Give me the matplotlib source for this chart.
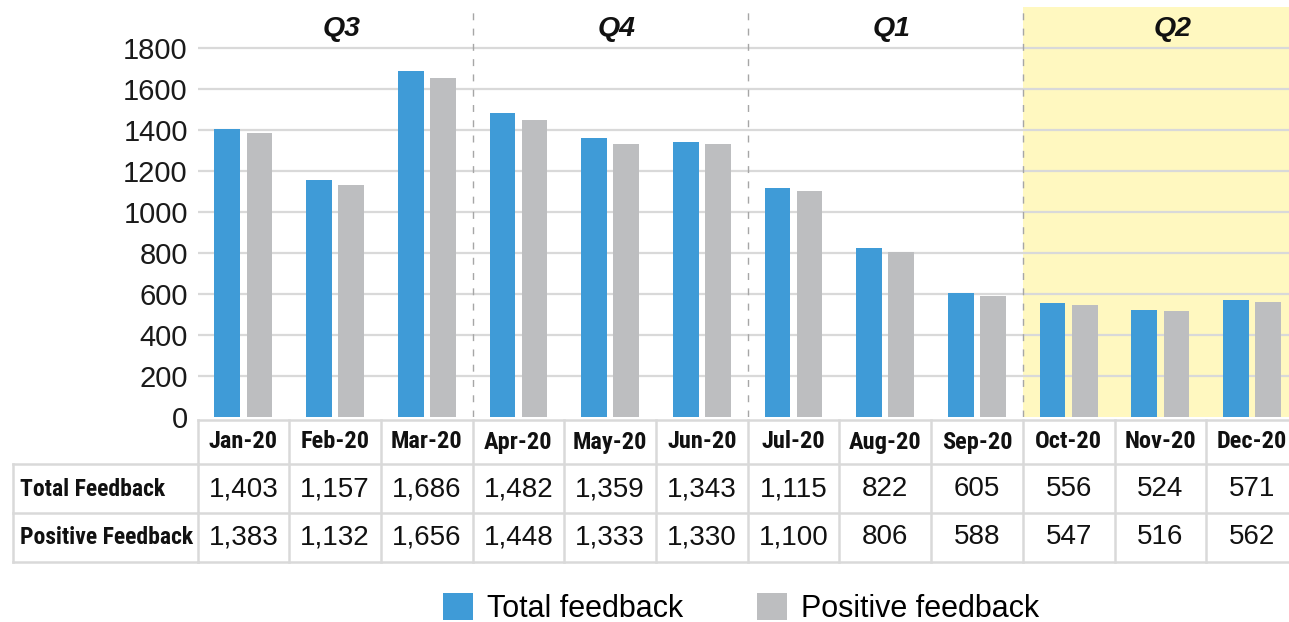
import os
import glob
import matplotlib
matplotlib.use("Agg")
import matplotlib.pyplot as plt
from matplotlib import font_manager
from matplotlib.font_manager import FontProperties
from matplotlib.patches import Patch
from matplotlib.transforms import blended_transform_factory

months = ["Jan-20", "Feb-20", "Mar-20", "Apr-20", "May-20", "Jun-20",
          "Jul-20", "Aug-20", "Sep-20", "Oct-20", "Nov-20", "Dec-20"]
total_feedback = [1403, 1157, 1686, 1482, 1359, 1343, 1115, 822, 605, 556, 524, 571]
positive_feedback = [1383, 1132, 1656, 1448, 1333, 1330, 1100, 806, 588, 547, 516, 562]
quarters = ["Q3", "Q4", "Q1", "Q2"]
row_labels = ["Total Feedback", "Positive Feedback"]
series_labels = ["Total feedback", "Positive feedback"]
yticks = [0, 200, 400, 600, 800, 1000, 1200, 1400, 1600, 1800]

BLUE = "#3F9BD7"
GREY = "#BDBEC0"
YELLOW = "#FFF8C0"
LINE = "#D9D9D9"
INK = "#111111"

SANS = ["Liberation Sans", "Arial", "DejaVu Sans"]
plt.rcParams["font.family"] = SANS


def narrow_bold_font():
    """Locate a condensed bold sans face for the table headers."""
    files = [f.fname for f in font_manager.fontManager.ttflist]
    for d in ("/usr/share/fonts", "/usr/local/share/fonts", os.path.expanduser("~/.fonts")):
        files += glob.glob(os.path.join(d, "**", "*.[ot]tf"), recursive=True)
    prefs = ["liberationsansnarrow-bold.", "arialnarrowbold", "arial narrow bold",
             "robotocondensed-bold.", "opensanscondensed-bold", "opensans_condensed-bold",
             "dejavusanscondensed-bold."]
    for p in prefs:
        for fn in files:
            if p in os.path.basename(fn).lower():
                return FontProperties(fname=fn)
    for fn in files:
        b = os.path.basename(fn).lower()
        if ("narrow" in b or "condensed" in b) and "bold" in b and "italic" not in b \
                and "oblique" not in b and "extra" not in b and "semi" not in b:
            return FontProperties(fname=fn)
    return FontProperties(family=SANS, weight="bold")


NARROW = narrow_bold_font()

W, H = 1289, 622
fig = plt.figure(figsize=(W / 100, H / 100), dpi=100)
renderer = fig.canvas.get_renderer()


def fit_size(text, target_px, base=20):
    fp = NARROW.copy()
    fp.set_size(base)
    t = fig.text(0, 0, text, fontproperties=fp)
    w = t.get_window_extent(renderer).width
    t.remove()
    return base * target_px / w


ax_left, ax_top, ax_bottom = 197.5, 7, 417
col_w = 91.7
x_max = -0.5 + (W - ax_left) / col_w
ax = fig.add_axes([ax_left / W, (H - ax_bottom) / H, 1 - ax_left / W, (ax_bottom - ax_top) / H])
ax.set_xlim(-0.5, x_max)
ax.set_ylim(0, 2000)

# Q2 highlight
ax.axvspan(8.5, x_max, color=YELLOW, zorder=0, lw=0)

# horizontal grid
for v in yticks[1:]:
    ax.axhline(v, color=LINE, lw=1.6, zorder=1)

# quarter separators
for xs_ in (2.5, 5.5, 8.5):
    ax.axvline(xs_, color="#A6A6A6", lw=1.0, ls=(0, (5, 6)), zorder=1)

n = len(months)
xs = list(range(n))
bw = 0.28
off = 0.175
ax.bar([x - off for x in xs], total_feedback, width=bw, color=BLUE, zorder=3)
ax.bar([x + off for x in xs], positive_feedback, width=bw, color=GREY, zorder=3)

ax.set_yticks(yticks)
ax.set_yticklabels([str(v) for v in yticks], fontsize=21, color="#1a1a1a")
ax.tick_params(axis="y", length=0, pad=7)
ax.set_xticks([])
for s in ax.spines.values():
    s.set_visible(False)

# quarter titles
bt = blended_transform_factory(ax.transData, fig.transFigure)
for qi, q in enumerate(quarters):
    cx = qi * 3 + 1 + (0.13 if q == "Q2" else 0.07)
    ax.text(cx, 1 - 28.5 / H, q, transform=bt, ha="center", va="center",
            fontsize=20.5, fontweight="bold", fontstyle="italic", color=INK,
            clip_on=False)


def fy(py):
    return 1 - py / H


# data table under the chart
row_edges = [420, 464, 513, 562]
lw_t = 1.8
for k in range(n + 1):
    ax.plot([k - 0.5, k - 0.5], [fy(row_edges[0]), fy(row_edges[-1])], transform=bt,
            color=LINE, lw=lw_t, clip_on=False, zorder=5)
for py in row_edges:
    ax.plot([-0.5, x_max + 1], [fy(py), fy(py)], transform=bt,
            color=LINE, lw=lw_t, clip_on=False, zorder=5)
fx_label_left = 13 / W
fx_label_right = ax_left / W
for py in row_edges[1:]:
    fig.add_artist(plt.Line2D([fx_label_left, fx_label_right], [fy(py), fy(py)],
                              color=LINE, lw=lw_t))
fig.add_artist(plt.Line2D([fx_label_left, fx_label_left], [fy(row_edges[1]), fy(row_edges[-1])],
                          color=LINE, lw=lw_t))

month_fp = NARROW.copy()
month_fp.set_size(fit_size("Jan-20", 69))
label_fp = NARROW.copy()
label_fp.set_size(fit_size("Positive Feedback", 172))

for i, m in enumerate(months):
    ax.text(i, fy(442), m, transform=bt, ha="center", va="center",
            fontproperties=month_fp, color=INK, clip_on=False)
    ax.text(i, fy(489), f"{total_feedback[i]:,}", transform=bt, ha="center", va="center",
            fontsize=20, color=INK, clip_on=False)
    ax.text(i, fy(537), f"{positive_feedback[i]:,}", transform=bt, ha="center", va="center",
            fontsize=20, color=INK, clip_on=False)

for lbl, py in zip(row_labels, (489, 537)):
    fig.text(20 / W, fy(py), lbl, ha="left", va="center", fontproperties=label_fp, color=INK)

handles = [Patch(facecolor=BLUE, edgecolor="none"), Patch(facecolor=GREY, edgecolor="none")]
fig.legend(handles, series_labels, loc="center", bbox_to_anchor=(741 / W, fy(608.5)),
           ncol=2, frameon=False, fontsize=22, handlelength=1.0, handleheight=1.0,
           handletextpad=0.45, columnspacing=2.4, borderpad=0)

fig.savefig("out.png", dpi=100)
